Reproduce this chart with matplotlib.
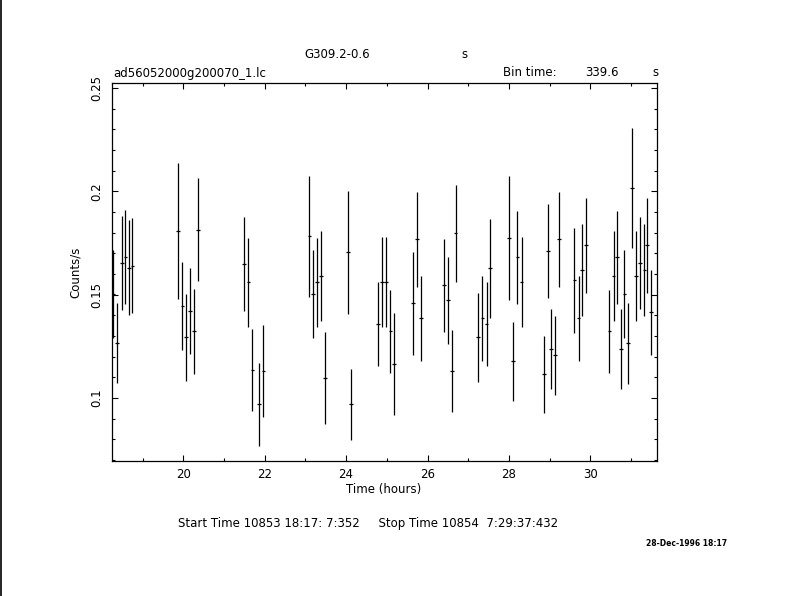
import matplotlib
matplotlib.use('Agg')
import matplotlib.pyplot as plt
from matplotlib.lines import Line2D
from matplotlib.ticker import MultipleLocator

# light curve values
hours = [18.27, 18.38, 18.49, 18.58, 18.66, 18.75,
         19.88, 19.98, 20.07, 20.17, 20.27, 20.37,
         21.50, 21.60, 21.70, 21.87, 21.97,
         23.10, 23.19, 23.29, 23.39, 23.49,
         24.05, 24.13,
         24.79, 24.89, 24.99, 25.09, 25.18,
         25.65, 25.75, 25.85,
         26.41, 26.51, 26.60, 26.69,
         27.25, 27.35, 27.45, 27.54,
         28.01, 28.11, 28.21, 28.31,
         28.87, 28.97, 29.04, 29.14, 29.24,
         29.61, 29.71, 29.80, 29.90,
         30.47, 30.57, 30.66, 30.76, 30.84, 30.93, 31.03, 31.13, 31.23, 31.33, 31.40, 31.50]
rates = [0.1502, 0.1268, 0.1652, 0.1682, 0.1631, 0.1639,
         0.1808, 0.1445, 0.1294, 0.1419, 0.1323, 0.1813,
         0.1647, 0.1560, 0.1136, 0.0970, 0.1131,
         0.1782, 0.1502, 0.1560, 0.1589, 0.1095,
         0.1705, 0.0970,
         0.1357, 0.1560, 0.1560, 0.1323, 0.1163,
         0.1458, 0.1768, 0.1386,
         0.1545, 0.1473, 0.1129, 0.1797,
         0.1294, 0.1386, 0.1357, 0.1627,
         0.1773, 0.1178, 0.1681, 0.1560,
         0.1115, 0.1710, 0.1236, 0.1207, 0.1768,
         0.1569, 0.1386, 0.1618, 0.1739,
         0.1323, 0.1589, 0.1681, 0.1236, 0.1502, 0.1265, 0.2015, 0.1589, 0.1652, 0.1618, 0.1739, 0.1415]
errors = [0.0214, 0.0194, 0.0227, 0.0225, 0.0231, 0.0230,
          0.0330, 0.0211, 0.0210, 0.0208, 0.0206, 0.0249,
          0.0227, 0.0216, 0.0200, 0.0200, 0.0224,
          0.0293, 0.0214, 0.0216, 0.0217, 0.0222,
          0.0298, 0.0171,
          0.0202, 0.0217, 0.0217, 0.0200, 0.0246,
          0.0248, 0.0229, 0.0205,
          0.0224, 0.0210, 0.0198, 0.0234,
          0.0214, 0.0205, 0.0202, 0.0241,
          0.0299, 0.0190, 0.0224, 0.0217,
          0.0185, 0.0227, 0.0193, 0.0190, 0.0229,
          0.0253, 0.0205, 0.0222, 0.0229,
          0.0200, 0.0217, 0.0224, 0.0193, 0.0214, 0.0195, 0.0289, 0.0217, 0.0222, 0.0222, 0.0229, 0.0205]
bin_half = 0.047  # half of 339.6 s, in hours

W, H = 790, 596
fig = plt.figure(figsize=(W / 100, H / 100), dpi=100)
ax = fig.add_axes([111.7 / W, 1 - 460.7 / H, (657.3 - 111.7) / W, (460.7 - 82.5) / H])

ax.errorbar(hours, rates, yerr=errors, xerr=bin_half, fmt='none',
            ecolor='black', elinewidth=0.9, capsize=0)

ax.set_xlim(18.241, 31.646)
ax.set_ylim(0.0697, 0.2526)
ax.xaxis.set_major_locator(MultipleLocator(2))
ax.xaxis.set_minor_locator(MultipleLocator(1))
ax.yaxis.set_major_locator(MultipleLocator(0.05))
ax.yaxis.set_minor_locator(MultipleLocator(0.01))
ax.tick_params(which='both', direction='in', top=True, right=True, width=0.8, labelsize=8.5)
ax.tick_params(which='major', length=4.3)
ax.tick_params(which='minor', length=2.2)
ax.tick_params(axis='x', pad=5)
ax.tick_params(axis='y', pad=6)
ax.set_yticks([0.1, 0.15, 0.2, 0.25])
ax.set_yticklabels(['0.1', '0.15', '0.2', '0.25'], rotation=90, va='center')
for sp in ax.spines.values():
    sp.set_linewidth(0.9)

def px(x, y):
    return x / W, 1 - y / H

fs = 8.5
fig.text(*px(337, 55), 'G309.2-0.6', ha='center', va='center', fontsize=fs)
fig.text(*px(464, 55), 's', ha='center', va='center', fontsize=fs)
fig.text(*px(113, 73), 'ad56052000g200070_1.lc', ha='left', va='center', fontsize=fs)
fig.text(*px(503, 73), 'Bin time:', ha='left', va='center', fontsize=fs)
fig.text(*px(585, 73), '339.6', ha='left', va='center', fontsize=fs)
fig.text(*px(655, 73), 's', ha='center', va='center', fontsize=fs)
fig.text(*px(75, 272), 'Counts/s', ha='center', va='center', rotation=90, fontsize=fs)
fig.text(*px(384, 490), 'Time (hours)', ha='center', va='center', fontsize=fs)
fig.text(*px(178, 524), 'Start Time 10853 18:17: 7:352     Stop Time 10854  7:29:37:432',
         ha='left', va='center', fontsize=fs)
fig.text(*px(687, 544), '28-Dec-1996 18:17', ha='center', va='center', fontsize=5.5, fontweight='bold')

# frame line along the left edge of the page
fig.add_artist(Line2D([0.001, 0.001], [0, 1], color='black', linewidth=1.2, transform=fig.transFigure))

fig.savefig('out.png', dpi=100)
